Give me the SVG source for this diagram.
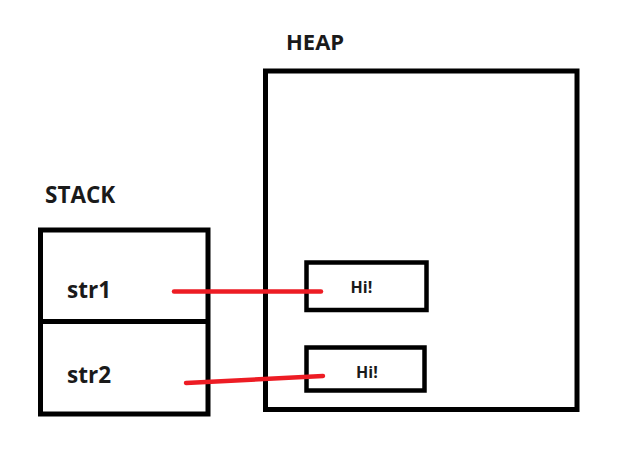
<svg xmlns="http://www.w3.org/2000/svg" width="624" height="452" viewBox="0 0 624 452">
<style>
.box{fill:none;stroke:#000;stroke-width:5}
.hbox{fill:none;stroke:#000;stroke-width:4.5}
.lbl{font-family:"Open Sans","Noto Sans",sans-serif;font-weight:bold;fill:#1a1a1a}
.ptr{stroke:#ed1c24;stroke-width:4.5;stroke-linecap:round;fill:none}
</style>
<rect width="624" height="452" fill="#fff"/>
<g id="stack">
<text class="lbl" x="45" y="203" font-size="22.5">STACK</text>
<rect class="box" x="40.5" y="230" width="167.5" height="184"/>
</g>
<g id="str1">
<line class="box" x1="40.5" y1="321.5" x2="208" y2="321.5"/>
<text class="lbl" x="67" y="298" font-size="22.5">str1</text>
</g>
<g id="str2">
<text class="lbl" x="67" y="383" font-size="22.5">str2</text>
</g>
<g id="heap">
<text class="lbl" x="286" y="50" font-size="22">HEAP</text>
<rect class="box" x="265.5" y="71" width="311.5" height="338.5"/>
</g>
<g id="hi1">
<rect class="hbox" x="306.5" y="262.5" width="120" height="47.5"/>
<text class="lbl" x="350.5" y="292.5" font-size="16">Hi!</text>
</g>
<g id="hi2">
<rect class="hbox" x="306.5" y="347.5" width="118" height="43"/>
<text class="lbl" x="356" y="377.5" font-size="16">Hi!</text>
</g>
<g id="connectors">
<line class="ptr" x1="174" y1="291.5" x2="321" y2="291.5"/>
<line class="ptr" x1="186" y1="383" x2="323" y2="376"/>
</g>
</svg>
